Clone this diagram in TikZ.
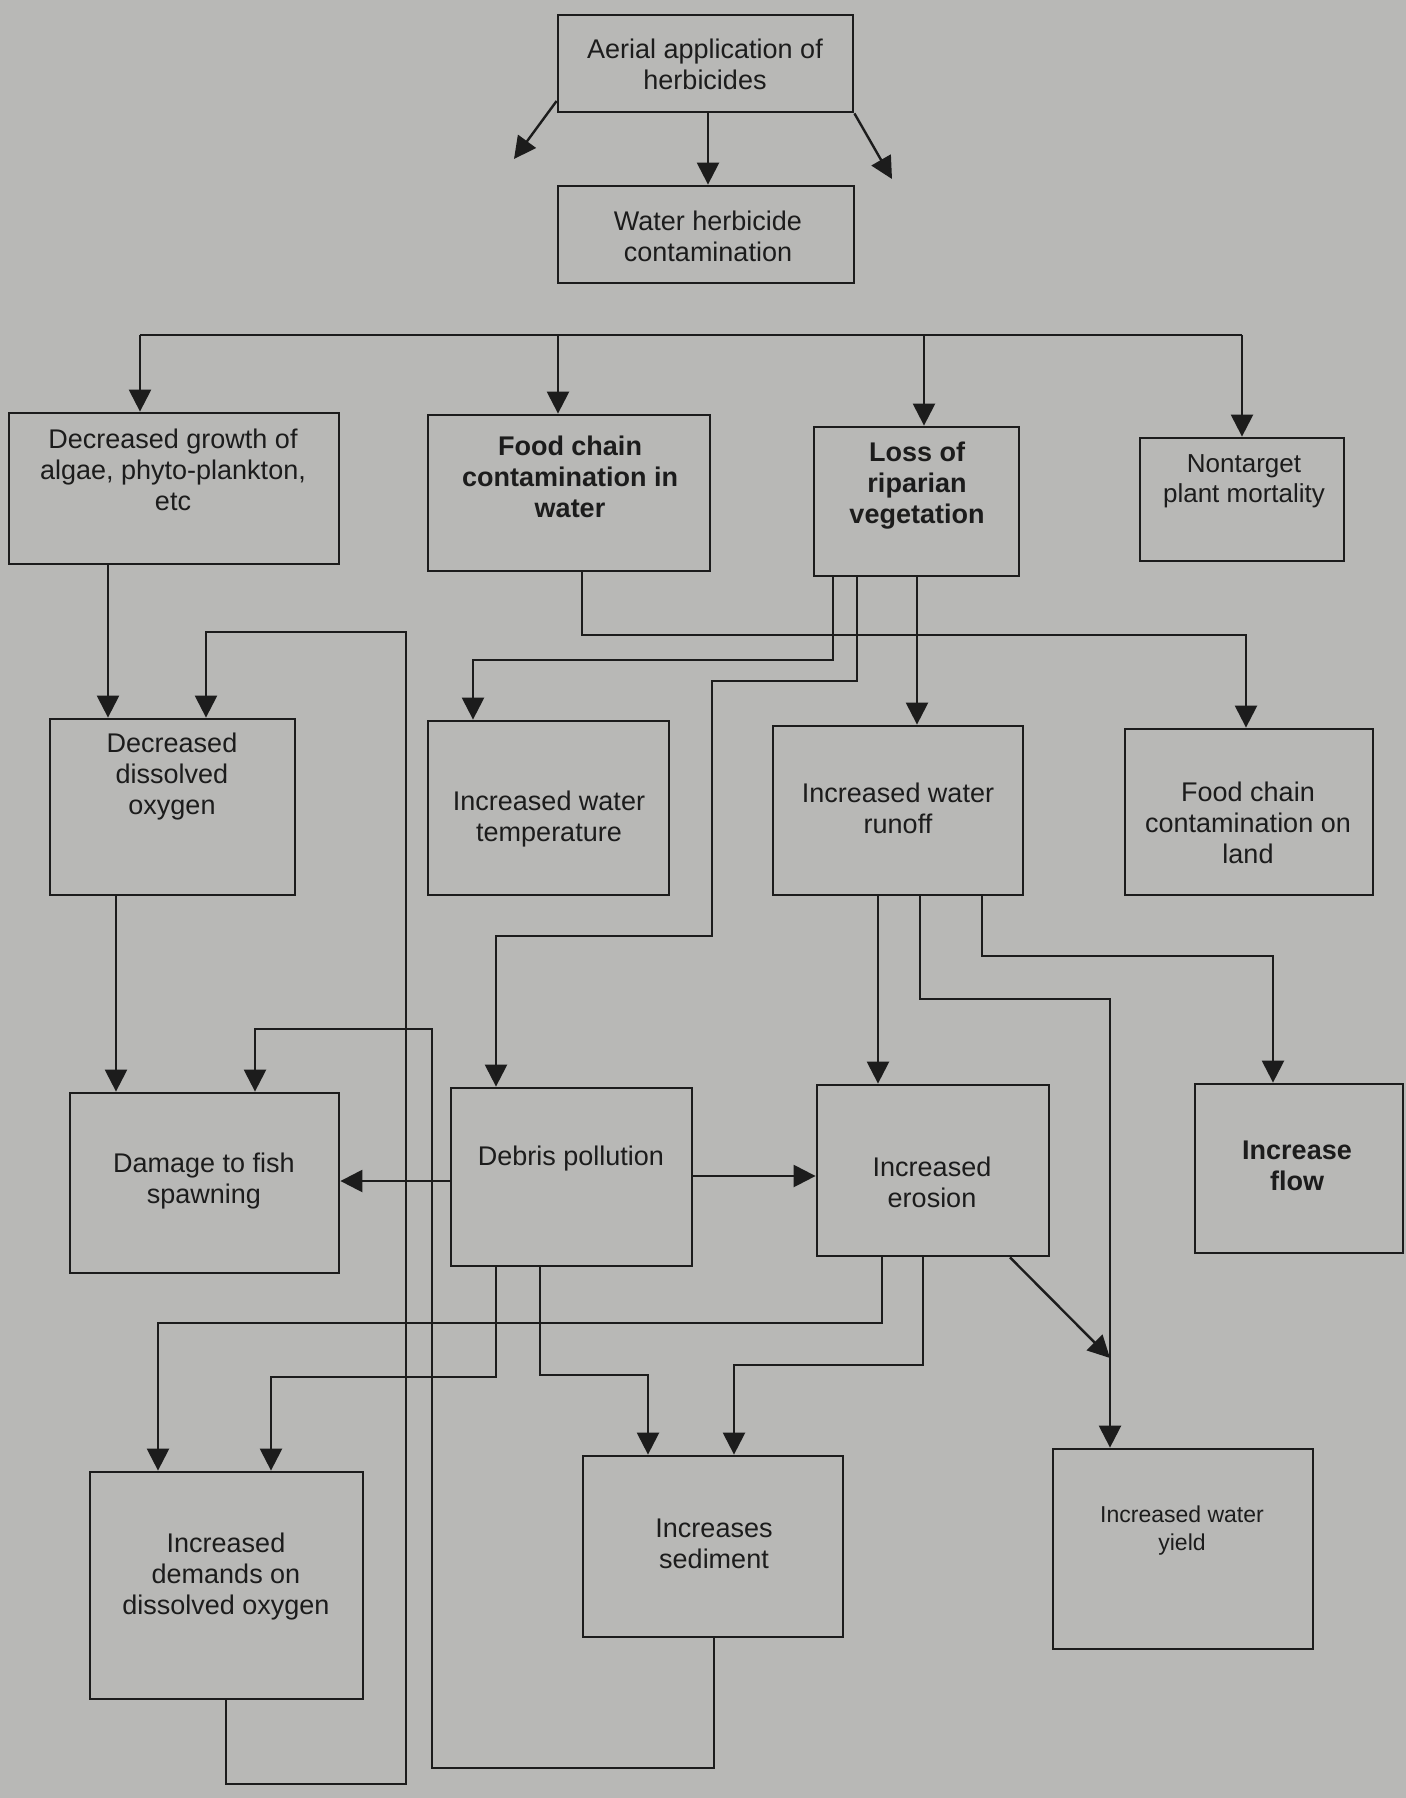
\documentclass[tikz,border=0pt]{standalone}
\usepackage{fontspec}
\setmainfont{Liberation Sans}
\usetikzlibrary{arrows.meta,fit}
\definecolor{paper}{RGB}{184,184,182}
\definecolor{ink}{RGB}{28,28,28}
\begin{document}
\begin{tikzpicture}[x=0.5pt,y=-0.5pt,
  box/.style={draw=ink,line width=1.4pt,inner sep=0pt},
  txt/.style={align=center,text=ink,inner sep=0pt,font=\fontsize{13.5}{15.5}\selectfont},
  btxt/.style={txt,font=\fontsize{13.5}{15.5}\selectfont\bfseries},
  stxt/.style={txt,font=\fontsize{11.5}{14}\selectfont},
  ln/.style={draw=ink,line width=1.2pt},
  arr/.style={ln,-{Triangle[length=11pt,width=11pt]}}]
\useasboundingbox (0,0) rectangle (1406,1798);
\fill[paper] (0,0) rectangle (1406,1798);

% boxes
\node[box,fit={(558,15) (853,112)}] (b1) {};
\node[box,fit={(558,186) (854,283)}] (b2) {};
\node[box,fit={(9,413) (339,564)}] (b3) {};
\node[box,fit={(428,415) (710,571)}] (b4) {};
\node[box,fit={(814,427) (1019,576)}] (b5) {};
\node[box,fit={(1140,438) (1344,561)}] (b6) {};
\node[box,fit={(50,719) (295,895)}] (b7) {};
\node[box,fit={(428,721) (669,895)}] (b8) {};
\node[box,fit={(773,726) (1023,895)}] (b9) {};
\node[box,fit={(1125,729) (1373,895)}] (b10) {};
\node[box,fit={(70,1093) (339,1273)}] (b11) {};
\node[box,fit={(451,1088) (692,1266)}] (b12) {};
\node[box,fit={(817,1085) (1049,1256)}] (b13) {};
\node[box,fit={(1195,1084) (1403,1253)}] (b14) {};
\node[box,fit={(90,1472) (363,1699)}] (b15) {};
\node[box,fit={(583,1456) (843,1637)}] (b16) {};
\node[box,fit={(1053,1449) (1313,1649)}] (b17) {};

% texts
\node[txt] (t1) at (705,64) {Aerial application of\\herbicides};
\node[txt] (t2) at (708,236) {Water herbicide\\contamination};
\node[txt] (t3) at (173,470) {Decreased growth of\\algae, phyto-plankton,\\etc};
\node[btxt] (t4) at (570,477) {Food chain\\contamination in\\water};
\node[btxt] (t5) at (917,486) {Loss of\\riparian\\vegetation};
\node[txt,font=\fontsize{13}{15}\selectfont] (t6) at (1244,481) {Nontarget\\plant mortality};
\node[txt] (t7) at (172,777) {Decreased\\dissolved\\oxygen};
\node[txt] (t8) at (549,819) {Increased water\\temperature};
\node[txt] (t9) at (898,808) {Increased water\\runoff};
\node[txt] (t10) at (1248,823) {Food chain\\contamination on\\land};
\node[txt] (t11) at (204,1181) {Damage to fish\\spawning};
\node[txt] (t12) at (571,1159) {Debris pollution};
\node[txt] (t13) at (932,1182) {Increased\\erosion};
\node[btxt] (t14) at (1297,1166) {Increase\\flow};
\node[txt] (t15) at (226,1576) {Increased\\demands on\\dissolved oxygen};
\node[txt] (t16) at (714,1544) {Increases\\sediment};
\node[stxt] (t17) at (1182,1531) {Increased water\\yield};

% top arrows
\coordinate (e1) at (514,159);
\coordinate (e2) at (892,179);
\draw[arr] (b1.west |- 0,101) -- (e1);
\draw[arr] (b1.south -| 708,0) -- (b2.north -| 708,0);
\draw[arr] (b1.south east) -- (e2);

% bus
\coordinate (busL) at (140,335);
\coordinate (busR) at (1242,335);
\draw[ln] (busL) -- (busR);
\draw[arr] (busL) -- (b3.north -| busL);
\draw[arr] (558,335) -- (b4.north -| 558,0);
\draw[arr] (924,335) -- (b5.north -| 924,0);
\draw[arr] (busR) -- (b6.north -| busR);

% row 2 -> row 3
\draw[arr] (b3.south -| 108,0) -- (b7.north -| 108,0);
\draw[arr] (b4.south -| 582,0) -- (582,635) -- (1246,635) -- (b10.north -| 1246,0);
\draw[arr] (b5.south -| 833,0) -- (833,660) -- (473,660) -- (b8.north -| 473,0);
\draw[arr] (b5.south -| 857,0) -- (857,681) -- (712,681) -- (712,936) -- (496,936) -- (b12.north -| 496,0);
\draw[arr] (b5.south -| 917,0) -- (b9.north -| 917,0);

% feedback loops
\draw[arr] (b15.south -| 226,0) -- (226,1784) -- (406,1784) -- (406,632) -- (206,632) -- (b7.north -| 206,0);
\draw[arr] (b16.south -| 714,0) -- (714,1768) -- (432,1768) -- (432,1029) -- (255,1029) -- (b11.north -| 255,0);

% row 3 -> row 4
\draw[arr] (b7.south -| 116,0) -- (b11.north -| 116,0);
\draw[arr] (b9.south -| 878,0) -- (b13.north -| 878,0);
\draw[arr] (b9.south -| 920,0) -- (920,999) -- (1110,999) -- (b17.north -| 1110,0);
\draw[arr] (b9.south -| 982,0) -- (982,956) -- (1273,956) -- (b14.north -| 1273,0);

% debris pollution
\draw[arr] (b12.west |- 0,1181) -- (b11.east |- 0,1181);
\draw[arr] (b12.east |- 0,1176) -- (b13.west |- 0,1176);
\draw[arr] (b12.south -| 496,0) -- (496,1377) -- (271,1377) -- (b15.north -| 271,0);
\draw[arr] (b12.south -| 540,0) -- (540,1375) -- (648,1375) -- (b16.north -| 648,0);

% erosion
\draw[arr] (b13.south -| 882,0) -- (882,1323) -- (158,1323) -- (b15.north -| 158,0);
\draw[arr] (b13.south -| 923,0) -- (923,1365) -- (734,1365) -- (b16.north -| 734,0);
\coordinate (jm) at (1110,1358);
\draw[arr] (b13.south -| 1010,0) -- (jm);
\end{tikzpicture}
\end{document}
